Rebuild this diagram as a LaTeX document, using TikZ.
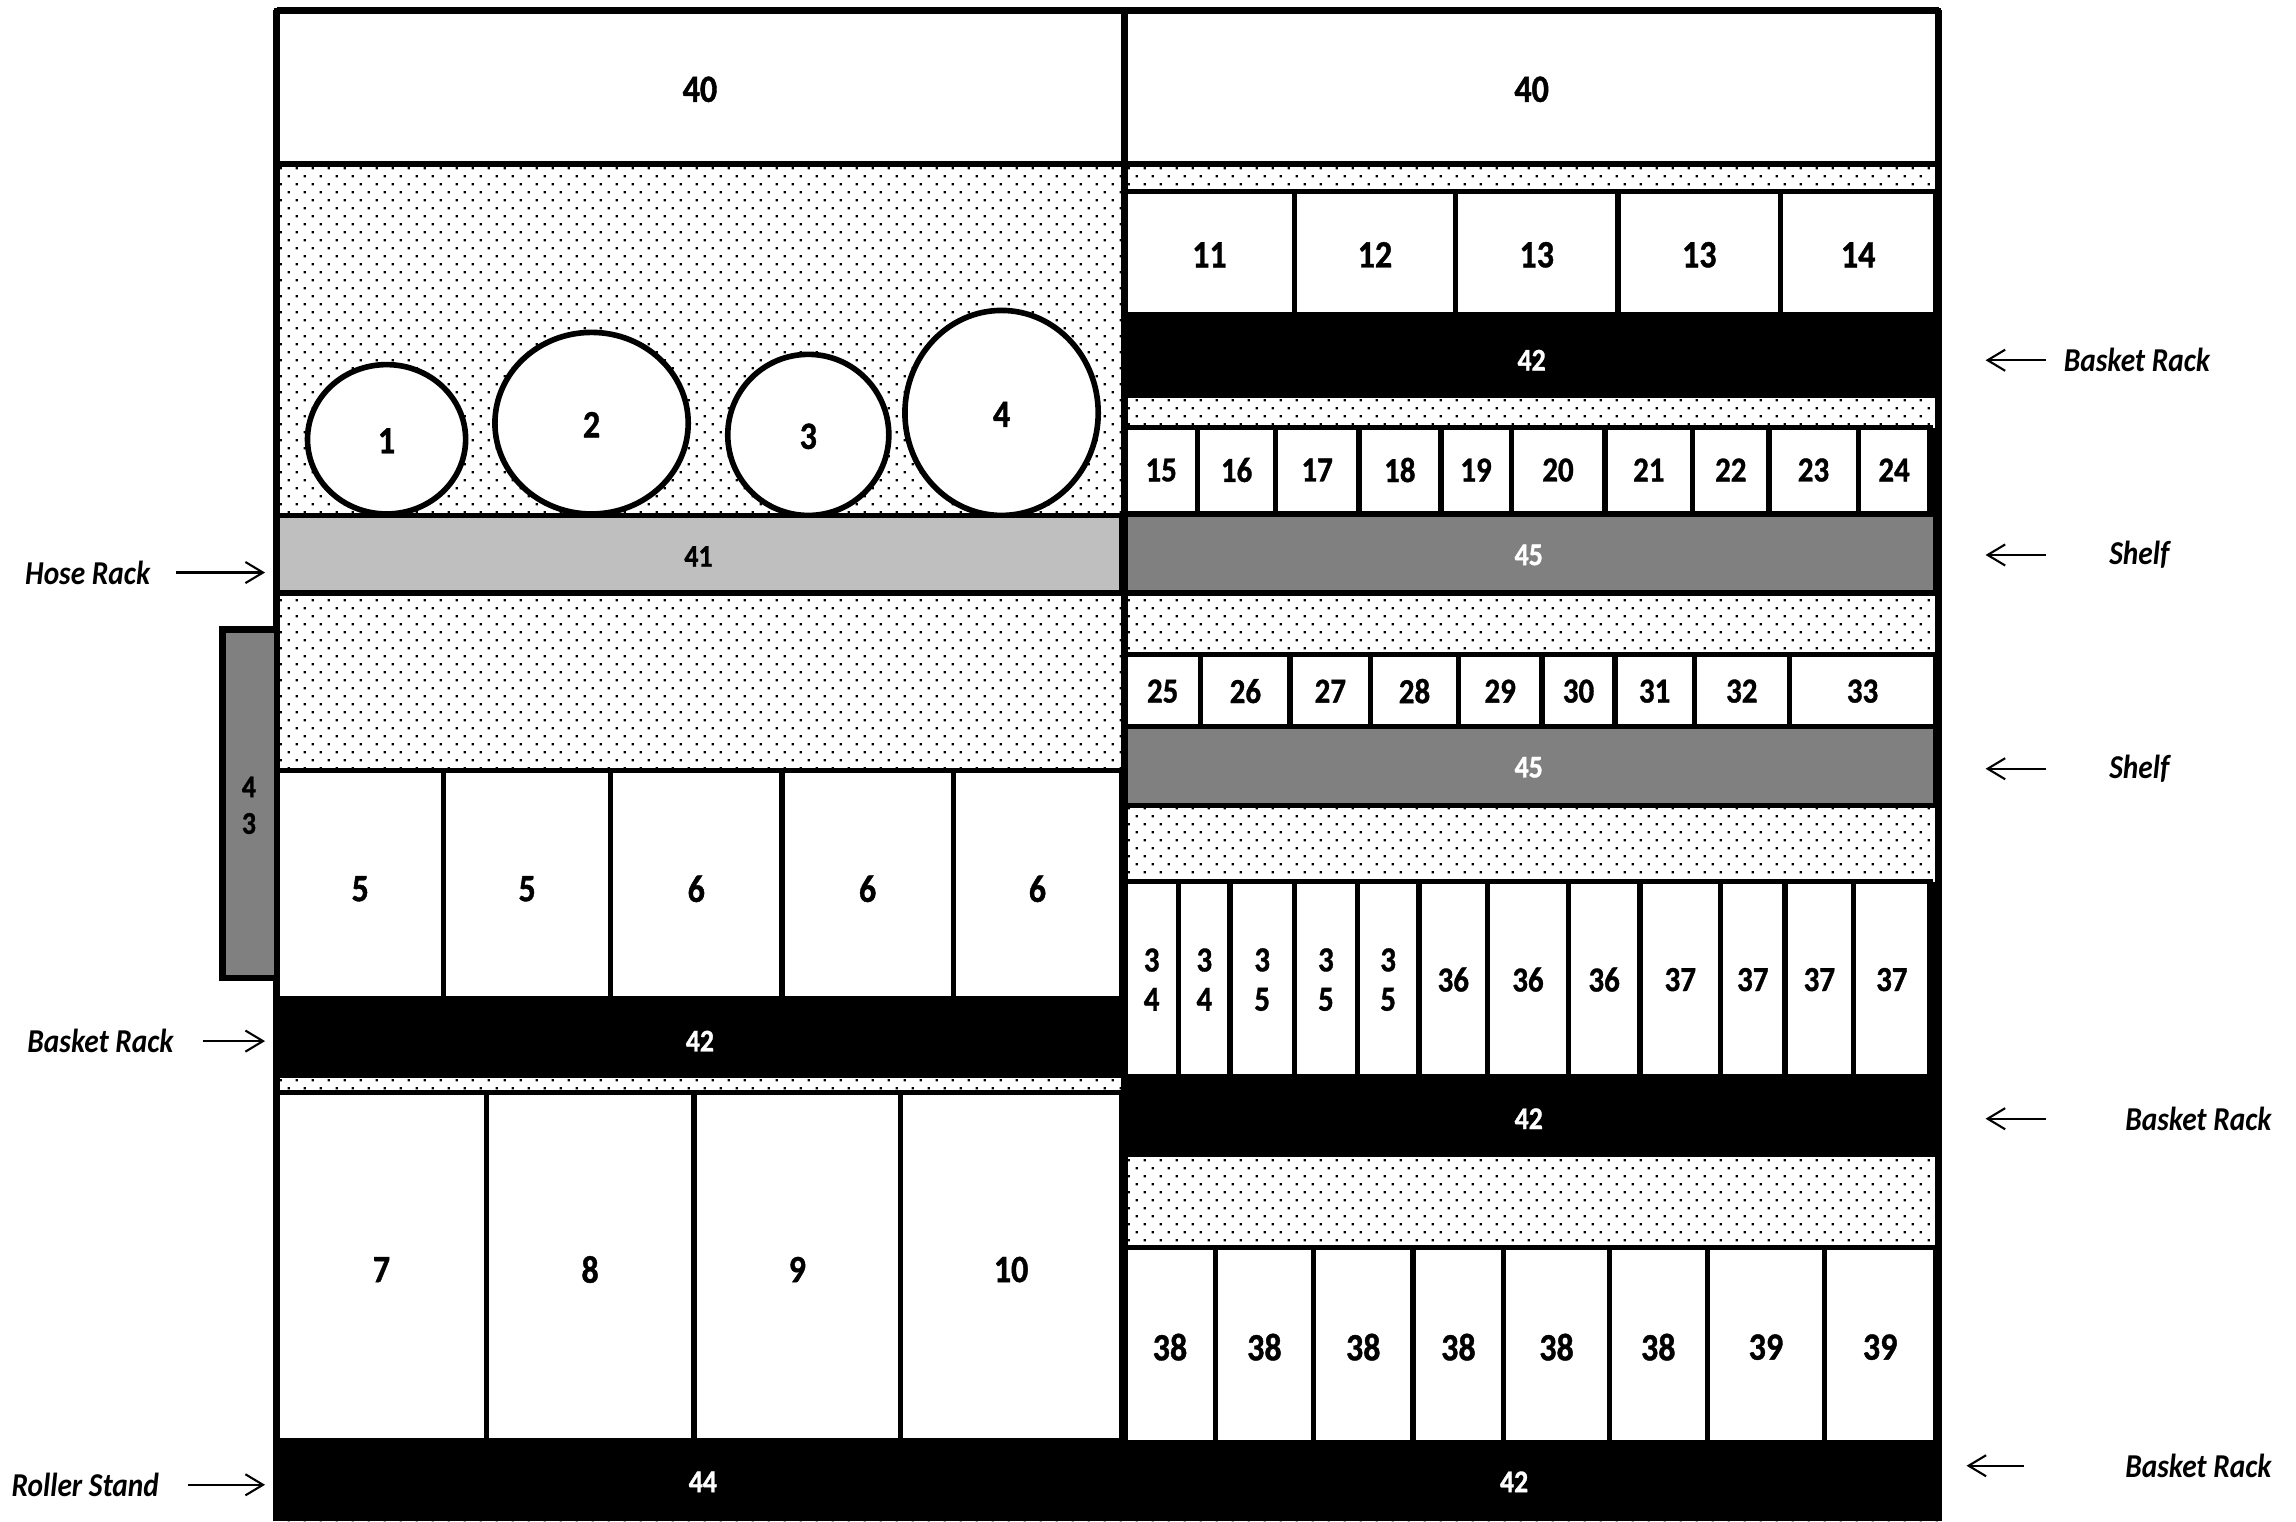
\documentclass[tikz,border=0pt]{standalone}
\usepackage{fontspec}
\setmainfont{Carlito}[FakeStretch=0.88,BoldFeatures={FakeBold=1}]
\usetikzlibrary{arrows.meta,patterns.meta}
\definecolor{hosegray}{HTML}{BFBFBF}
\definecolor{shelfgray}{HTML}{808080}
\tikzdeclarepattern{
  name=stagdots,
  type=uncolored,
  bottom left={(0pt,0pt)},
  top right={(4.55pt,4.55pt)},
  tile size={(4.55pt,4.55pt)},
  code={
    \pgfpathrectangle{\pgfpoint{0.2pt}{0.2pt}}{\pgfpoint{0.62pt}{0.62pt}}
    \pgfpathrectangle{\pgfpoint{2.475pt}{2.475pt}}{\pgfpoint{0.62pt}{0.62pt}}
    \pgfusepath{fill}
  }
}
\tikzset{
  cellbox/.style={draw,line width=1.5pt,fill=white},
  barbox/.style={draw,line width=1.5pt},
  frameline/.style={line width=2pt},
  bigno/.style={font=\bfseries\fontsize{11pt}{13pt}\selectfont},
  midno/.style={font=\bfseries\fontsize{10pt}{11.2pt}\selectfont,align=center},
  barno/.style={font=\bfseries\fontsize{9pt}{10.4pt}\selectfont,align=center},
  sidelbl/.style={font=\bfseries\itshape\fontsize{9.5pt}{11pt}\selectfont,inner sep=0pt},
  sidearrow/.style={->,line width=0.6pt},
}

\begin{document}
\begin{tikzpicture}[x=0.014643cm,y=-0.014643cm,>={Straight Barb[length=5pt,width=6pt]}]
\useasboundingbox (0,0) rectangle (1568,1039.4);
% floor
\fill[white] (189,7) rectangle (1324,1039);
\fill[pattern=stagdots] (189,7) rectangle (1324,1039);

% left half
\draw[cellbox] (189,7) rectangle (768,112);
\node[bigno] (lft40) at (478,61) {40};
\foreach \cx/\cy/\rx/\ry/\lab in {264/300/54/51/1,404/289/66/62/2,552/297/55/55/3,684/282/66/70/4}
 {\draw[cellbox,line width=1.6pt] (\cx,\cy) ellipse [x radius=\rx,y radius=\ry];
  \node[bigno] (reel\lab) at (\cx,\cy+1) {\lab};}
\draw[barbox,fill=hosegray] (189,352) rectangle (766,405);
\node[barno] (hosebar) at (477,380) {41};
\foreach \a/\b/\lab [count=\i] in {189/303/5,303/417/5,417/534/6,534/651/6,651/766/6}
 {\draw[cellbox] (\a,526) rectangle (\b,682);
  \node[bigno] (lrowa\i) at ({(\a+\b)/2},607) {\lab};}
\fill (189,682) rectangle (768,736);
\node[barno,white] (lbar42) at (478,711) {42};
\foreach \a/\b/\lab [count=\i] in {189/332/7,332/474/8,474/615/9,615/766/10}
 {\draw[cellbox] (\a,746) rectangle (\b,984);
  \node[bigno] (lrowb\i) at ({(\a+\b)/2},867) {\lab};}
\fill (189,984) rectangle (768,1039);
\node[barno,white] (lbar44) at (480,1012) {44};

% right half
\draw[cellbox] (768,7) rectangle (1324,112);
\node[bigno] (rgt40) at (1046,61) {40};
\foreach \a/\b/\lab [count=\i] in {768/884/11,884/994/12,994/1105/13,1105/1216/13,1216/1322/14}
 {\draw[cellbox] (\a,131) rectangle (\b,215);
  \node[bigno] (rrowa\i) at ({(\a+\b)/2},174) {\lab};}
\fill (768,215) rectangle (1324,272);
\node[barno,white] (rbar42a) at (1046,246) {42};
\fill (768,292) rectangle (1324,351);
\foreach \a/\b/\lab [count=\i] in {768/818/15,818/871/16,871/928/17,928/984/18,984/1032/19,
   1032/1096/20,1096/1156/21,1156/1208/22,1208/1269/23,1269/1318/24}
 {\draw[cellbox] (\a,292) rectangle (\b,351);
  \node[midno] (rrowb\i) at ({(\a+\b)/2},321) {\lab};}
\draw[barbox,fill=shelfgray] (768,351) rectangle (1322,405);
\node[barno,white] (shelf45a) at (1044,379) {45};
\foreach \a/\b/\lab [count=\i] in {768/820/25,820/881/26,881/936/27,936/996/28,996/1053/29,
   1053/1103/30,1103/1157/31,1157/1222/32,1222/1322/33}
 {\draw[cellbox] (\a,447) rectangle (\b,496);
  \node[midno] (rrowc\i) at ({(\a+\b)/2},472) {\lab};}
\draw[barbox,fill=shelfgray] (768,496) rectangle (1322,550);
\node[barno,white] (shelf45b) at (1044,524) {45};
\fill (768,602) rectangle (1324,735);
\foreach \a/\b/\lab [count=\i] in {768/805/{3\\4},805/840/{3\\4},840/884/{3\\5},884/927/{3\\5},
   927/969/{3\\5},969/1016/36,1016/1071/36,1071/1120/36,1120/1175/37,1175/1219/37,
   1219/1266/37,1266/1318/37}
 {\draw[cellbox] (\a,602) rectangle (\b,735);
  \node[midno] (rrowd\i) at ({(\a+\b)/2},669) {\lab};}
\fill (768,735) rectangle (1324,790);
\node[barno,white] (rbar42b) at (1044,764) {42};
\foreach \a/\b/\lab [count=\i] in {768/830/38,830/897/38,897/965/38,965/1027/38,
   1027/1099/38,1099/1166/38,1166/1246/39,1246/1322/39}
 {\draw[cellbox] (\a,852) rectangle (\b,985);
  \node[bigno] (rrowe\i) at ({(\a+\b)/2},920) {\lab};}
\fill (768,985) rectangle (1324,1039);
\node[barno,white] (rbar42c) at (1034,1012) {42};

% outer walls
\draw[frameline] (189,7) -- (1324,7);
\draw[frameline] (189,7) -- (189,1039);
\draw[frameline] (1324,7) -- (1324,1039);
\draw[frameline] (768,7) -- (768,984);

% side box 43
\draw[barbox,line width=1.8pt,fill=shelfgray] (152,430) rectangle (189,668);
\node[barno] (box43) at (170,550) {4\\3};

% rack names
\node[sidelbl,anchor=east] (hoselbl) at (103,391) {Hose Rack};
\coordinate (hosetip) at (181,391);
\draw[sidearrow,shorten <=7.2pt] (hoselbl.east) -- (hosetip);
\node[sidelbl,anchor=east] (lbasket) at (119,711) {Basket Rack};
\coordinate (lbaskettip) at (181,711);
\draw[sidearrow,shorten <=8.1pt] (lbasket.east) -- (lbaskettip);
\node[sidelbl,anchor=east] (roller) at (109,1014) {Roller Stand};
\coordinate (rollertip) at (181,1014);
\draw[sidearrow,shorten <=8.2pt] (roller.east) -- (rollertip);

\node[sidelbl,anchor=west] (rbasketa) at (1409,246) {Basket Rack};
\coordinate (rbasketatip) at (1356,246);
\draw[sidearrow,shorten <=5pt] (rbasketa.west) -- (rbasketatip);
\node[sidelbl,anchor=west] (shelfa) at (1440,379) {Shelf};
\coordinate (shelfatip) at (1356,379);
\draw[sidearrow,shorten <=17.9pt] (shelfa.west) -- (shelfatip);
\node[sidelbl,anchor=west] (shelfb) at (1440,525) {Shelf};
\coordinate (shelfbtip) at (1356,525);
\draw[sidearrow,shorten <=17.9pt] (shelfb.west) -- (shelfbtip);
\node[sidelbl,anchor=west] (rbasketb) at (1451,764) {Basket Rack};
\coordinate (rbasketbtip) at (1356,764);
\draw[sidearrow,shorten <=22.5pt] (rbasketb.west) -- (rbasketbtip);
\node[sidelbl,anchor=west] (rbasketc) at (1451,1001) {Basket Rack};
\coordinate (rbasketctip) at (1343,1001);
\draw[sidearrow,shorten <=28.7pt] (rbasketc.west) -- (rbasketctip);
\end{tikzpicture}
\end{document}
